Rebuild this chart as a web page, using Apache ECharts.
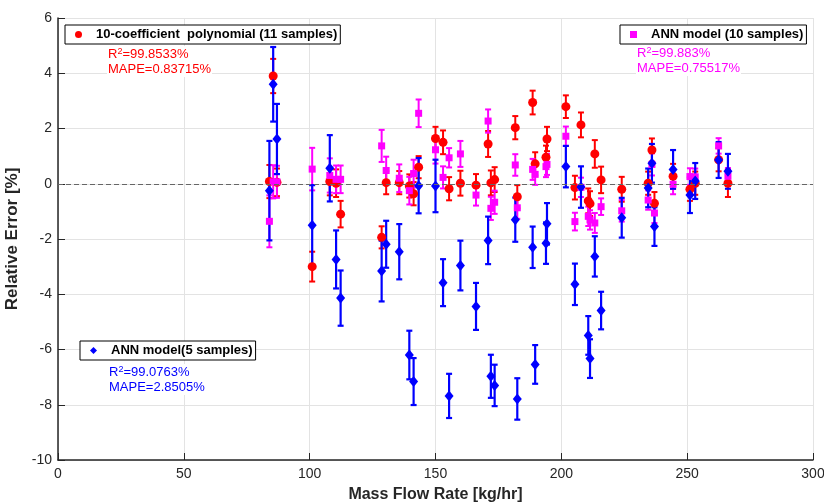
<!DOCTYPE html>
<html>
<head>
<meta charset="utf-8">
<script src="https://cdn.jsdelivr.net/npm/echarts@6/dist/echarts.min.js"></script>
<style>
  html, body { margin: 0; padding: 0; background: #fff; }
  #chart { width: 824px; height: 502px; }
</style>
</head>
<body>
<div id="chart"></div>
<script>
  // sample positions (kg/hr)
  const massFlow = [84, 85.5, 87, 101, 108, 110.5, 112.3, 128.6, 130.4, 135.6, 139.6, 141.3, 143.3, 150, 153, 155.4, 159.9, 166.1, 170.9, 172, 173.5, 181.7, 182.5, 188.6, 189.6, 193.9, 194.3, 201.8, 205.4, 207.8, 210.7, 211.4, 213.3, 215.8, 224, 234.5, 236, 237, 244.4, 251.1, 253.2, 262.5, 266.2];

  // 10-coefficient polynomial
  const polyErr = [0.08, 3.9, 0.05, -3.0, 0.08, 0.02, -1.1, -1.94, 0.04, 0.04, -0.08, -0.36, 0.6, 1.64, 1.5, -0.18, 0.02, -0.05, 1.44, 0.03, 0.15, 2.03, -0.47, 2.94, 0.72, 0.96, 1.62, 2.79, -0.14, 2.13, -0.62, -0.72, 1.08, 0.14, -0.2, 0.02, 1.22, -0.71, 0.27, -0.2, 0.02, 0.87, 0.02];
  const polyUnc = [0.6, 0.62, 0.5, 0.54, 0.5, 0.5, 0.48, 0.4, 0.42, 0.42, 0.42, 0.42, 0.4, 0.42, 0.43, 0.42, 0.45, 0.4, 0.47, 0.45, 0.45, 0.42, 0.42, 0.43, 0.42, 0.42, 0.44, 0.41, 0.43, 0.45, 0.45, 0.45, 0.5, 0.48, 0.45, 0.42, 0.42, 0.41, 0.45, 0.42, 0.42, 0.42, 0.5];

  // ANN model, 10 samples
  const ann10Err = [-1.36, 0.07, 0.07, 0.53, 0.3, 0.16, 0.16, 1.37, 0.48, 0.2, -0.25, 0.37, 2.55, 1.23, 0.23, 0.94, 1.08, -0.41, 2.27, -0.89, -0.67, 0.68, -0.87, 0.52, 0.34, 0.62, 0.7, 1.72, -1.37, -0.13, -1.18, -1.31, -1.42, -0.83, -0.98, -0.59, 0.7, -1.06, -0.02, 0.26, 0.25, 1.37, 0.27];
  const ann10Unc = [0.94, 0.6, 0.58, 0.77, 0.62, 0.5, 0.5, 0.58, 0.5, 0.5, 0.5, 0.5, 0.5, 0.5, 0.4, 0.35, 0.47, 0.38, 0.42, 0.42, 0.42, 0.39, 0.4, 0.38, 0.38, 0.38, 0.38, 0.35, 0.32, 0.35, 0.35, 0.35, 0.36, 0.3, 0.39, 0.35, 0.4, 0.36, 0.36, 0.3, 0.3, 0.28, 0.3];

  // ANN model, 5 samples
  const ann5Err = [-0.25, 3.6, 1.62, -1.5, 0.56, -2.74, -4.14, -3.16, -2.19, -2.46, -6.2, -7.16, -0.07, -0.08, -3.58, -7.68, -2.96, -4.44, -2.05, -6.97, -7.3, -1.3, -7.79, -2.3, -6.54, -2.15, -1.45, 0.62, -3.64, -0.12, -5.49, -6.33, -2.63, -4.59, -1.23, -0.15, 0.74, -1.55, 0.52, -0.41, 0.1, 0.86, 0.45];
  const ann5Unc = [1.8, 1.35, 1.27, 1.45, 1.2, 1.05, 1.0, 1.1, 0.85, 1.0, 0.88, 0.85, 1.0, 0.95, 0.85, 0.8, 0.9, 0.85, 0.86, 0.78, 0.75, 0.8, 0.75, 0.75, 0.7, 0.75, 0.75, 0.75, 0.75, 0.75, 0.7, 0.7, 0.73, 0.68, 0.72, 0.7, 0.7, 0.7, 0.7, 0.65, 0.65, 0.65, 0.63];

  const seriesNames = ['10-coefficient  polynomial (11 samples)', 'ANN model (10 samples)', 'ANN model(5 samples)'];
  const statLines = [
    ['R{sup|2}=99.8533%', 'MAPE=0.83715%'],
    ['R{sup|2}=99.883%', 'MAPE=0.75517%'],
    ['R{sup|2}=99.0763%', 'MAPE=2.8505%']
  ];

  const font = '"Liberation Sans", Arial, sans-serif';
  const narrow = '"Liberation Sans Narrow", "Liberation Sans", Arial, sans-serif';
  const axisColor = '#262626';

  let chart = echarts.init(document.getElementById('chart'));

  function points(vals) {
    return massFlow.map((x, i) => [x, vals[i]]);
  }
  function bars(vals, unc) {
    return massFlow.map((x, i) => [x, vals[i] - unc[i], vals[i] + unc[i]]);
  }

  // vertical error bar with caps
  function errorBarSeries(data, color, width) {
    return {
      type: 'custom',
      silent: true,
      data: data,
      renderItem: function (params, api) {
        let lo = api.coord([api.value(0), api.value(1)]);
        let hi = api.coord([api.value(0), api.value(2)]);
        let cap = 3;
        let st = { stroke: color, lineWidth: width };
        return {
          type: 'group',
          children: [
            { type: 'line', shape: { x1: lo[0], y1: lo[1], x2: hi[0], y2: hi[1] }, style: st },
            { type: 'line', shape: { x1: lo[0] - cap, y1: lo[1], x2: lo[0] + cap, y2: lo[1] }, style: st },
            { type: 'line', shape: { x1: hi[0] - cap, y1: hi[1], x2: hi[0] + cap, y2: hi[1] }, style: st }
          ]
        };
      }
    };
  }

  function legendBox(name, left, top) {
    return {
      data: [name],
      left: left,
      top: top,
      orient: 'horizontal',
      backgroundColor: '#fff',
      borderColor: '#000',
      borderWidth: 1,
      borderRadius: 0,
      padding: [3, 3, 3, 10],
      itemWidth: 7,
      itemHeight: 7,
      itemGap: 0,
      selectedMode: false,
      textStyle: { fontFamily: font, fontWeight: 'bold', fontSize: 13, color: '#000', padding: [0, 0, 0, 9] }
    };
  }

  function statText(lines, left, top, color) {
    return lines.map((t, k) => ({
      type: 'text',
      left: left,
      top: top + k * 16,
      z: 100,
      style: {
        text: t,
        fill: color,
        font: '13px ' + font,
        backgroundColor: '#fff',
        padding: [1, 1, 1, 1],
        rich: {
          sup: { fontSize: 9, fill: color, verticalAlign: 'top', padding: [0, 0, 5, 0] }
        }
      }
    }));
  }

  chart.setOption({
    animation: false,
    grid: { left: 58, right: 11, top: 18, bottom: 42, containLabel: false, outerBoundsMode: 'none' },
    xAxis: {
      type: 'value',
      min: 0,
      max: 300,
      interval: 50,
      name: 'Mass Flow Rate [kg/hr]',
      nameLocation: 'middle',
      nameGap: 27,
      nameTextStyle: { fontFamily: narrow, fontWeight: 'bold', fontSize: 16, color: axisColor },
      axisLine: { onZero: false, lineStyle: { color: axisColor, width: 1.5 } },
      axisTick: { inside: true, length: 7, lineStyle: { color: axisColor } },
      axisLabel: { fontFamily: narrow, fontSize: 14, color: axisColor, margin: 7 },
      splitLine: { show: true, lineStyle: { color: '#e3e3e3', width: 1 } }
    },
    yAxis: {
      type: 'value',
      min: -10,
      max: 6,
      interval: 2,
      name: 'Relative Error [%]',
      nameLocation: 'middle',
      nameGap: 31,
      nameTextStyle: { fontFamily: font, fontWeight: 'bold', fontSize: 17, color: axisColor },
      axisLine: { show: true, lineStyle: { color: axisColor, width: 1.5 } },
      axisTick: { show: true, inside: true, length: 7, lineStyle: { color: axisColor } },
      axisLabel: { fontFamily: narrow, fontSize: 14, color: axisColor, margin: 6 },
      splitLine: { show: true, lineStyle: { color: '#e3e3e3', width: 1 } }
    },
    legend: [
      legendBox(seriesNames[0], 65, 25),
      legendBox(seriesNames[1], 620, 25),
      legendBox(seriesNames[2], 80, 341)
    ],
    graphic: [].concat(
      statText(statLines[0], 107, 46, '#ff0000'),
      statText(statLines[1], 636, 45, '#ff00ff'),
      statText(statLines[2], 108, 364, '#0000ff')
    ),
    series: [
      errorBarSeries(bars(polyErr, polyUnc), '#ff0000', 2),
      {
        type: 'scatter',
        name: seriesNames[0],
        symbol: 'circle',
        symbolSize: 9,
        itemStyle: { color: '#ff0000', opacity: 1 },
        data: points(polyErr),
        markLine: {
          silent: true,
          symbol: 'none',
          label: { show: false },
          lineStyle: { color: '#666', type: [5, 3], width: 1 },
          data: [{ yAxis: 0 }]
        }
      },
      errorBarSeries(bars(ann10Err, ann10Unc), '#ff00ff', 2),
      {
        type: 'scatter',
        name: seriesNames[1],
        symbol: 'rect',
        symbolSize: 7,
        itemStyle: { color: '#ff00ff', opacity: 1 },
        data: points(ann10Err)
      },
      errorBarSeries(bars(ann5Err, ann5Unc), '#0000ff', 2.2),
      {
        type: 'scatter',
        name: seriesNames[2],
        symbol: 'diamond',
        symbolSize: [9, 11],
        itemStyle: { color: '#0000ff', opacity: 1 },
        data: points(ann5Err)
      }
    ]
  });
</script>
</body>
</html>
